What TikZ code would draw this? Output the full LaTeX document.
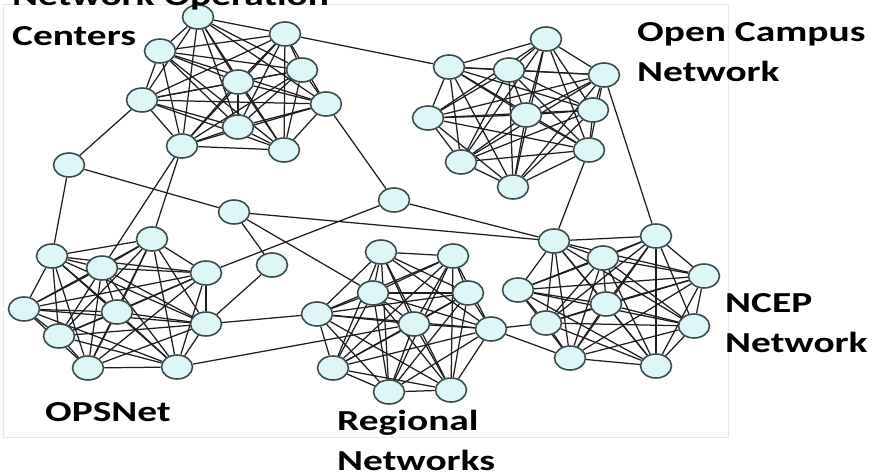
\documentclass[tikz,border=0pt]{standalone}
\usepackage{fontspec}
\newfontfamily\lblfont[FakeStretch=1.36]{Carlito}
\usetikzlibrary{shapes.geometric,backgrounds}
\definecolor{nodefill}{RGB}{222,246,246}
\definecolor{nodeline}{RGB}{60,76,76}
\definecolor{linkcol}{RGB}{30,30,30}

\begin{document}
\begin{tikzpicture}[x=1pt, y=-1pt]
    \tikzstyle{host}=[ellipse,draw=nodeline,fill=nodefill,line width=1.6pt,minimum width=31pt,minimum height=24pt,inner sep=0pt]
    \tikzstyle{link}=[draw=linkcol,line width=1.25pt]
    \tikzstyle{lbl}=[font=\lblfont\bfseries\fontsize{29}{40}\selectfont,align=left,anchor=base west,inner sep=0pt]
    \useasboundingbox (0,0) rectangle (875,476);
    \draw[gray!18,line width=0.6pt] (3,4) rectangle (728,437);

    % Network Operation Centers
    \node[host] (noc1) at (198,17) {};
    \node[host] (noc2) at (285,34) {};
    \node[host] (noc3) at (160,51) {};
    \node[host] (noc4) at (302,70) {};
    \node[host] (noc5) at (238,82) {};
    \node[host] (noc6) at (142,100) {};
    \node[host] (noc7) at (326,104) {};
    \node[host] (noc8) at (238,127) {};
    \node[host] (noc9) at (182,146) {};
    \node[host] (noc10) at (284,150) {};

    % Open Campus Network
    \node[host] (oc1) at (546,39) {};
    \node[host] (oc2) at (449,67) {};
    \node[host] (oc3) at (509,70) {};
    \node[host] (oc4) at (604,75) {};
    \node[host] (oc5) at (428,118) {};
    \node[host] (oc6) at (526,115) {};
    \node[host] (oc7) at (593,110) {};
    \node[host] (oc8) at (461,162) {};
    \node[host] (oc9) at (589,150) {};
    \node[host] (oc10) at (513,187) {};

    % OPSNet
    \node[host] (ops1) at (52,256) {};
    \node[host] (ops2) at (152,239) {};
    \node[host] (ops3) at (102,268) {};
    \node[host] (ops4) at (206,273) {};
    \node[host] (ops5) at (24,309) {};
    \node[host] (ops6) at (117,312) {};
    \node[host] (ops7) at (59,336) {};
    \node[host] (ops8) at (206,324) {};
    \node[host] (ops9) at (88,368) {};
    \node[host] (ops10) at (177,367) {};

    % Regional Networks
    \node[host] (reg1) at (381,252) {};
    \node[host] (reg2) at (453,256) {};
    \node[host] (reg3) at (373,293) {};
    \node[host] (reg4) at (468,293) {};
    \node[host] (reg5) at (317,314) {};
    \node[host] (reg6) at (414,324) {};
    \node[host] (reg7) at (491,329) {};
    \node[host] (reg8) at (333,368) {};
    \node[host] (reg9) at (389,392) {};
    \node[host] (reg10) at (451,390) {};

    % NCEP Network
    \node[host] (ncep1) at (554,241) {};
    \node[host] (ncep2) at (656,236) {};
    \node[host] (ncep3) at (603,258) {};
    \node[host] (ncep4) at (704,276) {};
    \node[host] (ncep5) at (518,290) {};
    \node[host] (ncep6) at (606,304) {};
    \node[host] (ncep7) at (546,323) {};
    \node[host] (ncep8) at (694,326) {};
    \node[host] (ncep9) at (570,358) {};
    \node[host] (ncep10) at (656,366) {};

    % single hosts between the networks
    \node[host] (gwA) at (69,165) {};
    \node[host] (gwB) at (234,212) {};
    \node[host] (gwC) at (394,200) {};
    \node[host] (gwD) at (272,265) {};

    \begin{pgfonlayer}{background}
    % every host of a network linked to every other
    \foreach \net in {noc,oc,ops,reg,ncep}{
      \foreach \i in {1,...,9}{
        \pgfmathtruncatemacro\nxt{\i+1}
        \foreach \j in {\nxt,...,10}{
          \draw[link] (\net\i) -- (\net\j);
        }
      }
    }
    \draw[link] (noc2) -- (oc2);
    \draw[link] (noc7) -- (gwC);
    \draw[link] (noc6) -- (gwA);
    \draw[link] (noc9) -- (ops2);
    \draw[link] (noc9) -- (ops3);
    \draw[link] (gwA) -- (ops1);
    \draw[link] (gwA) -- (gwB);
    \draw[link] (gwB) -- (gwD);
    \draw[link] (gwB) -- (reg3);
    \draw[link] (gwB) -- (ncep1);
    \draw[link] (gwC) -- (ops4);
    \draw[link] (gwC) -- (ncep1);
    \draw[link] (gwD) -- (ops8);
    \draw[link] (ops8) -- (reg5);
    \draw[link] (ops10) -- (reg6);
    \draw[link] (reg7) -- (ncep7);
    \draw[link] (reg7) -- (ncep9);
    \draw[link] (oc9) -- (ncep1);
    \draw[link] (oc4) -- (ncep2);
    \end{pgfonlayer}

    \node[lbl] (nocname) at (12,46) {Network Operation\\Centers};
    \node[lbl] (ocname) at (637,82) {Open Campus\\Network};
    \node[lbl] (ncepname) at (725,352) {NCEP\\Network};
    \node[lbl] (opsname) at (45,421) {OPSNet};
    \node[lbl] (regname) at (337,470) {Regional\\Networks};
\end{tikzpicture}
\end{document}
